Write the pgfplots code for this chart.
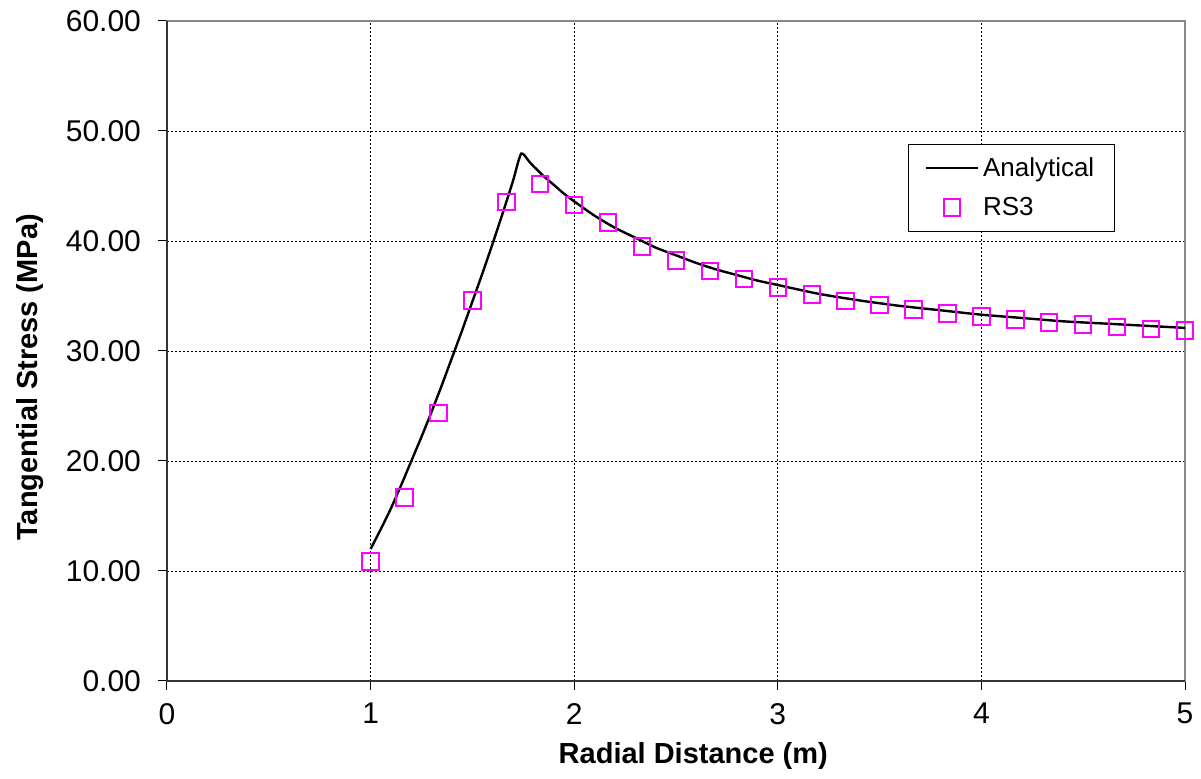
\documentclass[border=0pt]{standalone}
\usepackage{pgfplots}
\pgfplotsset{compat=1.18}
\usepackage{fontspec}
\setmainfont{Liberation Sans}
\definecolor{rsmag}{RGB}{255,0,255}
\definecolor{framegray}{RGB}{136,136,136}
\definecolor{framedark}{RGB}{51,51,51}

\begin{document}
\begin{tikzpicture}
\begin{axis}[
    scale only axis,
    width=509pt,
    height=330pt,
    xmin=0, xmax=5,
    ymin=0, ymax=60,
    xtick={0,1,2,3,4,5},
    ytick={0,10,20,30,40,50,60},
    /pgf/number format/assume math mode=true,
    yticklabel={\pgfmathprintnumber[fixed,fixed zerofill,precision=2]{\tick}},
    xticklabel style={font=\fontsize{15}{18}\selectfont, yshift=-3pt},
    yticklabel style={font=\fontsize{15}{18}\selectfont, xshift=-5pt},
    tick align=outside,
    xtick pos=bottom,
    ytick pos=left,
    major tick length=4.5pt,
    tick style={black, line width=0.5pt},
    grid=major,
    major grid style={black, line width=0.4pt, dash pattern=on 1pt off 1pt},
    axis line style={framegray, line width=1pt},
    xlabel={\textbf{Radial Distance (m)}},
    ylabel={\textbf{Tangential Stress (MPa)}},
    xlabel style={font=\fontsize{14.5}{17}\selectfont, at={(ticklabel cs:0.517)}, yshift=-2pt},
    ylabel style={font=\fontsize{14.5}{17}\selectfont, at={(ticklabel cs:0.46)}, yshift=4pt},
    clip=false,
    legend style={
        at={(rel axis cs:0.728,0.814)}, anchor=north west,
        draw=black, line width=0.5pt,
        font=\fontsize{13}{15}\selectfont,
        inner xsep=8pt, inner ysep=4.5pt,
        row sep=5pt,
    },
    legend cell align=left,
    legend image code/.code={\draw[mark repeat=2,mark phase=2,#1] plot coordinates {(0pt,0pt) (13pt,0pt) (26pt,0pt)};},
    after end axis/.code={
        \draw[framedark, line width=1pt] (rel axis cs:0,1) -- (rel axis cs:0,0) -- (rel axis cs:1,0);
        \coordinate (bl) at (rel axis cs:0,0);
        \coordinate (tr) at (rel axis cs:1,1);
    },
]
\addplot[black, line width=1.2pt, smooth, tension=0.4, no marks] coordinates {
    (1.00,12.0) (1.05,13.8) (1.10,15.7) (1.15,17.8) (1.20,20.0)
    (1.25,22.2) (1.30,24.5) (1.35,26.9) (1.40,29.4) (1.45,31.9)
    (1.50,34.5) (1.55,37.1) (1.60,39.8) (1.65,42.6) (1.70,45.5)
    (1.725,47.2) (1.74,47.95) (1.755,47.8) (1.78,47.2) (1.80,46.8)
    (1.85,45.9) (1.90,45.1) (1.95,44.3) (2.00,43.6) (2.10,42.3)
    (2.20,41.2) (2.30,40.3) (2.40,39.4) (2.50,38.7) (2.60,38.0)
    (2.70,37.4) (2.80,36.9) (2.90,36.4) (3.00,36.0) (3.20,35.2)
    (3.40,34.6) (3.60,34.1) (3.80,33.7) (4.00,33.3) (4.20,33.0)
    (4.40,32.7) (4.60,32.5) (4.80,32.3) (5.00,32.1)
};
\addlegendentry{Analytical}
\addplot[only marks, mark=square, mark size=4.1pt, mark options={draw=rsmag, line width=1pt, fill=none}] coordinates {
    (1.0000,10.85) (1.1667,16.67) (1.3333,24.36) (1.5000,34.60)
    (1.6667,43.55) (1.8333,45.18) (2.0000,43.25) (2.1667,41.67)
    (2.3333,39.50) (2.5000,38.24) (2.6667,37.27) (2.8333,36.55)
    (3.0000,35.76) (3.1667,35.12) (3.3333,34.55) (3.5000,34.17)
    (3.6667,33.79) (3.8333,33.42) (4.0000,33.12) (4.1667,32.85)
    (4.3333,32.60) (4.5000,32.40) (4.6667,32.20) (4.8333,32.00)
    (5.0000,31.88)
};
\addlegendentry{RS3}
\end{axis}
\pgfresetboundingbox
\path ([shift={(-83.5pt,-49pt)}]bl) rectangle ([shift={(8pt,10.5pt)}]tr);
\end{tikzpicture}
\end{document}
